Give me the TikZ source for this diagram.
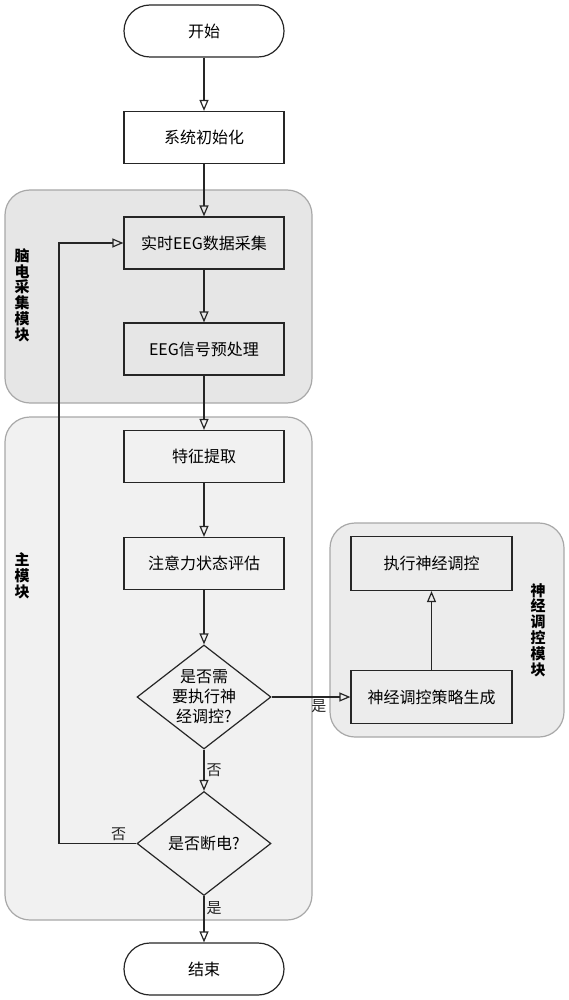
\documentclass[tikz,border=0pt]{standalone}
\usepackage{fontspec}
\setmainfont{Noto Sans CJK SC}
\usetikzlibrary{arrows.meta,positioning,shapes.geometric}
\definecolor{flowDark}{HTML}{262626}
\definecolor{panelEdge}{HTML}{A8A8A8}
\definecolor{eegPanel}{HTML}{E6E6E6}
\definecolor{mainPanel}{HTML}{F1F1F1}
\definecolor{neuroPanel}{HTML}{ECECEC}
\tikzset{
  flow/.style={-{Triangle[open,length=11pt,width=9pt]}, line width=1.2pt, draw=flowDark},
  terminal/.style={draw=flowDark, line width=1.2pt, fill=white, rounded corners=26pt,
    minimum width=160pt, minimum height=52pt, font=\fontsize{16}{19}\selectfont},
  proc box/.style={draw=flowDark, line width=1.2pt, minimum width=160pt,
    minimum height=52pt, font=\fontsize{16}{19}\selectfont},
  decision/.style={diamond, draw=flowDark, line width=1.2pt, aspect=1.29,
    minimum width=134pt, minimum height=104pt, inner sep=-8pt, align=center,
    font=\fontsize{16}{20}\selectfont},
  panel/.style={draw=panelEdge, line width=1.2pt, rounded corners=25pt},
  module label/.style={align=center, font=\fontsize{15}{15.8}\selectfont\bfseries},
  tiny label/.style={font=\fontsize{15}{17}\selectfont, text=flowDark, inner sep=2pt}
}
\begin{document}
\begin{tikzpicture}[x=1pt, y=-1pt]
  \useasboundingbox (0,0) rectangle (569,1000);
  % module panels
  \node[panel, fill=eegPanel, minimum width=307pt, minimum height=213pt] (eegbox) at (158.5,296.5) {};
  \node[panel, fill=mainPanel, minimum width=307pt, minimum height=503pt] (mainbox) at (158.5,668.5) {};
  \node[panel, fill=neuroPanel, minimum width=234pt, minimum height=214pt] (neurobox) at (447,630) {};
  \node[module label] (eeglbl) at (22,295) {脑\\电\\采\\集\\模\\块};
  \node[module label] (mainlbl) at (22,576) {主\\模\\块};
  \node[module label] (neurolbl) at (538,630) {神\\经\\调\\控\\模\\块};
  % main chain
  \node[terminal] (start) at (204,31) {开始};
  \node[proc box] (init) at (204,137.5) {系统初始化};
  \node[proc box] (acq) at (204,243) {实时EEG数据采集};
  \node[proc box] (prep) at (204,349) {EEG信号预处理};
  \node[proc box] (feat) at (204,456.5) {特征提取};
  \node[proc box] (attn) at (204,563.5) {注意力状态评估};
  \node[decision] (need) at (204,697) {是否需\\要执行神\\经调控?};
  \node[decision] (power) at (204,843.5) {是否断电?};
  \node[terminal] (stop) at (204,969) {结束};
  % neuromodulation
  \node[proc box, minimum width=161pt, minimum height=54pt] (exec) at (431.5,563.5) {执行神经调控};
  \node[proc box, minimum width=161pt, minimum height=53pt] (plan) at (431.5,697) {神经调控策略生成};
  \coordinate (loop) at (59,843.5);
  \draw[flow] (start) -- (init);
  \draw[flow] (init) -- (acq);
  \draw[flow] (acq) -- (prep);
  \draw[flow] (prep) -- (feat);
  \draw[flow] (feat) -- (attn);
  \draw[flow] (attn) -- (need);
  \draw[flow] (need) -- node[tiny label, right, pos=0.5] {否} (power);
  \draw[flow] (power) -- node[tiny label, right, pos=0.25] {是} (stop);
  \draw[flow] (need.east) -- node[tiny label, below, pos=0.6] {是} (plan.west);
  \draw[flow] (plan) -- (exec);
  \draw[flow] (power.west) -- node[tiny label, above, pos=0.23] {否} (loop) |- (acq.west);
\end{tikzpicture}
\end{document}
